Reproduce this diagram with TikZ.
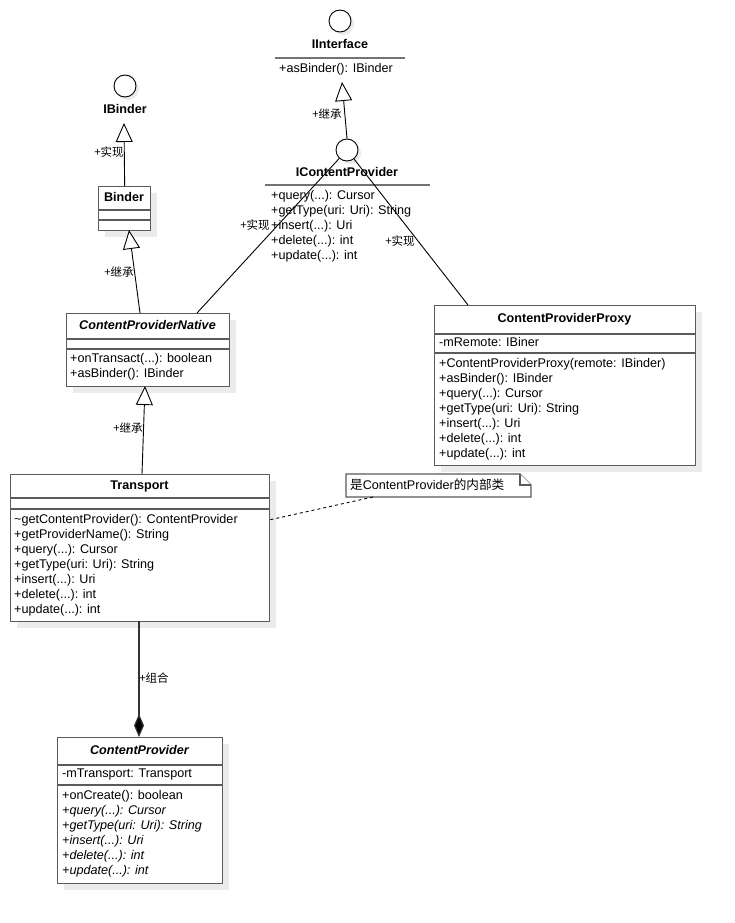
\documentclass[tikz,border=0pt]{standalone}
\usepackage{fontspec}
\setmainfont{Liberation Sans}
\newfontfamily\cjk{Noto Sans CJK SC}
\usetikzlibrary{arrows.meta,shadows}
\definecolor{boxc}{HTML}{5A5A5A}
\definecolor{shadc}{HTML}{EBEBEB}
\newcommand\fsz{\fontsize{12.6}{14}\selectfont}
\begin{document}
\begin{tikzpicture}[x=1pt,y=-1pt,
  font=\fsz,
  box/.style={draw=boxc, line width=1.3pt, fill=white, inner sep=0pt, anchor=north west,
    drop shadow={shadow xshift=6pt, shadow yshift=-6pt, fill=shadc, opacity=1}},
  circ/.style={circle, draw=black, line width=0.9pt, fill=white, minimum size=22pt, inner sep=0pt,
    drop shadow={shadow xshift=3pt, shadow yshift=-3pt, fill=shadc, opacity=1}},
  sep/.style={draw=boxc, line width=1.3pt},
  hsep/.style={draw=black!55, line width=1.6pt},
  txt/.style={anchor=west, inner sep=0pt, text height=9pt, text depth=2.5pt},
  ttl/.style={inner sep=0pt, text height=9pt, text depth=2.5pt, font=\fsz\bfseries},
  ttli/.style={ttl, font=\fsz\bfseries\itshape},
  itx/.style={txt, font=\fsz\itshape},
  lbl/.style={inner sep=0pt, font=\cjk\fontsize{11.5}{13}\selectfont},
  conn/.style={draw=black, line width=0.9pt},
  inh/.style={conn, -{Triangle[open, length=19pt, width=17pt, fill=white]}},
  comp/.style={draw=black!80, line width=1.2pt, -{Diamond[length=23pt, width=10pt, fill=black]}},
  note/.style={draw=boxc, line width=1.1pt, fill=white}
]
\useasboundingbox[fill=white] (0,0) rectangle (734,923);

% ---------- IInterface ----------
\node[circ] (iic) at (340,21) {};
\node[ttl] (iit) at (340,45) {IInterface};
\draw[hsep] (275,58) -- (405,58);
\node[txt] (iim) at (279,69) {+asBinder(): IBinder};
\coordinate (iiTip) at (342,82);

% ---------- IBinder ----------
\node[circ] (ibc) at (125,86) {};
\node[ttl] (ibt) at (125,110) {IBinder};
\coordinate (ibTip) at (124,123);

% ---------- Binder ----------
\node[box, minimum width=52pt, minimum height=44pt] (binder) at (98,186) {};
\node[ttl] (bt) at (124,198) {Binder};
\draw[sep] (98,210) -- (150,210);
\draw[sep] (98,220) -- (150,220);
\coordinate (bTip) at (129,230);

% ---------- IContentProvider ----------
\node[circ] (icpc) at (347,150) {};
\node[ttl] (icpt) at (347,173) {IContentProvider};
\draw[hsep] (265,185) -- (430,185);
\node[txt] at (271,196) {+query(...): Cursor};
\node[txt] at (271,211) {+getType(uri: Uri): String};
\node[txt] at (271,226) {+insert(...): Uri};
\node[txt] at (271,241) {+delete(...): int};
\node[txt] at (271,256) {+update(...): int};

% ---------- ContentProviderNative ----------
\node[box, minimum width=163pt, minimum height=73pt] (cpn) at (66,313) {};
\node[ttli] at (147.5,326) {ContentProviderNative};
\draw[sep] (66,339) -- (229,339);
\draw[sep] (66,349) -- (229,349);
\node[txt] at (70,359) {+onTransact(...): boolean};
\node[txt] at (70,374) {+asBinder(): IBinder};
\coordinate (cpnTop) at (140,313);
\coordinate (cpnR) at (197,313);
\coordinate (cpnTip) at (145,386);

% ---------- ContentProviderProxy ----------
\node[box, minimum width=261pt, minimum height=160pt] (px) at (434,305) {};
\node[ttl] at (564.5,319) {ContentProviderProxy};
\draw[sep] (434,334) -- (695,334);
\node[txt] at (439,343) {-mRemote: IBiner};
\draw[sep] (434,353) -- (695,353);
\node[txt] at (439,364) {+ContentProviderProxy(remote: IBinder)};
\node[txt] at (439,379) {+asBinder(): IBinder};
\node[txt] at (439,394) {+query(...): Cursor};
\node[txt] at (439,409) {+getType(uri: Uri): String};
\node[txt] at (439,424) {+insert(...): Uri};
\node[txt] at (439,439) {+delete(...): int};
\node[txt] at (439,454) {+update(...): int};
\coordinate (pxT) at (468,305);

% ---------- Transport ----------
\node[box, minimum width=259pt, minimum height=147pt] (tr) at (10,474) {};
\node[ttl] at (139.5,486) {Transport};
\draw[sep] (10,498) -- (269,498);
\draw[sep] (10,509) -- (269,509);
\node[txt] at (14,520) {\textasciitilde getContentProvider(): ContentProvider};
\node[txt] at (14,535) {+getProviderName(): String};
\node[txt] at (14,550) {+query(...): Cursor};
\node[txt] at (14,565) {+getType(uri: Uri): String};
\node[txt] at (14,580) {+insert(...): Uri};
\node[txt] at (14,595) {+delete(...): int};
\node[txt] at (14,610) {+update(...): int};
\coordinate (trTop) at (142,474);
\coordinate (trBot) at (139,621);
\coordinate (trR) at (269,520);

% ---------- Note ----------
\draw[note] (346,474) -- (520,474) -- (531,485) -- (531,497) -- (346,497) -- cycle;
\draw[note] (520,474) -- (520,485) -- (531,485);
\node[txt] (note) at (350,486) {{\cjk 是}ContentProvider{\cjk 的内部类}};
\coordinate (noteB) at (373,497);

% ---------- ContentProvider ----------
\node[box, minimum width=165pt, minimum height=146pt] (cp) at (57,737) {};
\node[ttli] at (139.5,751) {ContentProvider};
\draw[sep] (57,765) -- (222,765);
\node[txt] at (62,774) {-mTransport: Transport};
\draw[sep] (57,785) -- (222,785);
\node[txt] at (62,796) {+onCreate(): boolean};
\node[itx] at (62,811) {+query(...): Cursor};
\node[itx] at (62,826) {+getType(uri: Uri): String};
\node[itx] at (62,841) {+insert(...): Uri};
\node[itx] at (62,856) {+delete(...): int};
\node[itx] at (62,871) {+update(...): int};
\coordinate (cpTop) at (139,737);

% ---------- connectors ----------
\draw[inh] (icpc.north) -- (iiTip);
\node[lbl] at (327,114) {+继承};

\draw[inh] (binder.north) -- (ibTip);
\node[lbl] at (109,152) {+实现};

\draw[inh] (cpnTop) -- (bTip);
\node[lbl] at (119,272) {+继承};

\draw[conn] (icpc) -- (cpnR);
\node[lbl] at (255,225) {+实现};

\draw[conn] (icpc) -- (pxT);
\node[lbl] at (400,241) {+实现};

\draw[inh] (trTop) -- (cpnTip);
\node[lbl] at (128,428) {+继承};

\draw[comp] (trBot) -- (cpTop);
\node[lbl] at (154,678) {+组合};

\draw[conn, dashed, dash pattern=on 3pt off 3pt] (noteB) -- (trR);
\end{tikzpicture}
\end{document}
